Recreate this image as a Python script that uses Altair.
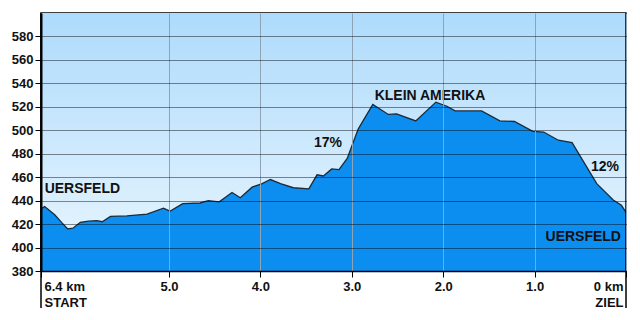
import altair as alt
import pandas as pd

# ---- data ----
km = [6.40, 6.36, 6.25, 6.17, 6.11, 6.05, 5.97, 5.88, 5.79, 5.73,
      5.64, 5.46, 5.24, 5.06, 4.99, 4.85, 4.66, 4.57, 4.45, 4.31,
      4.22, 4.09, 3.98, 3.89, 3.78, 3.64, 3.47, 3.38, 3.31, 3.22,
      3.14, 3.05, 2.93, 2.77, 2.60, 2.51, 2.30, 2.08, 1.96, 1.87,
      1.58, 1.38, 1.22, 1.02, 0.90, 0.74, 0.59, 0.32, 0.14, 0.05, 0.00]
elev = [433, 435, 428, 421, 416, 416.5, 421.5, 422.5, 423, 422,
        426.5, 427, 428.5, 433.5, 431, 437.5, 438, 440, 439, 447,
        442.5, 451.5, 454.5, 458, 454.5, 451, 450, 462, 461, 467,
        466.5, 476, 501, 522, 513.5, 514, 508, 524, 520.5, 516.5,
        516.5, 508, 507.5, 499, 498.5, 491.5, 489.5, 454.5, 440.5, 436, 430]

y_ticks = [380, 400, 420, 440, 460, 480, 500, 520, 540, 560, 580]
x_ticks = [6.4, 5.0, 4.0, 3.0, 2.0, 1.0, 0.0]

ann_text = ["UERSFELD", "KLEIN AMERIKA", "17%", "12%", "UERSFELD"]
ann_km = [6.36, 2.75, 3.26, 0.23, 0.055]
ann_elev = [449.5, 529.5, 489.5, 468.5, 409]
ann_align = ["left", "left", "center", "center", "right"]

W, H = 585, 258
FONT = "Liberation Sans"

prof = pd.DataFrame({"km": km, "elev": elev})
ann = pd.DataFrame({"text": ann_text, "km": ann_km, "elev": ann_elev, "align": ann_align})

xscale = alt.Scale(domain=[0, 6.4], reverse=True, nice=False, zero=False)
yscale = alt.Scale(domain=[380, 600], nice=False, zero=False)

label_expr = ("datum.value == 6.4 ? ['6.4 km', 'START'] : "
              "datum.value == 0 ? ['0 km', 'ZIEL'] : format(datum.value, '.1f')")

x_axis = alt.Axis(
    values=x_ticks, labelExpr=label_expr, labelFlush=True, labelFlushOffset=-3,
    grid=True, gridColor="#8fa3b6", gridWidth=1, gridOpacity=1,
    tickSize=6, tickColor="black", domainColor="black", domainWidth=1.5,
    labelFont=FONT, labelFontSize=13, labelFontWeight="bold", labelColor="#111",
    labelPadding=3, labelLineHeight=16, labelOverlap=False, title=None, zindex=1)
y_axis = alt.Axis(
    values=y_ticks, grid=True, gridColor="#000000", gridDash=[1, 1], gridWidth=1,
    gridOpacity=0.9,
    tickSize=6, tickColor="black", domainColor="black", domainWidth=2,
    labelFont=FONT, labelFontSize=13, labelFontWeight="bold", labelColor="#111",
    labelPadding=2, labelOverlap=False, title=None, zindex=1)

X = alt.X("km:Q", scale=xscale, axis=x_axis)
Y = alt.Y("elev:Q", scale=yscale, axis=y_axis)

bg = alt.Chart(pd.DataFrame({"a": [0]})).mark_rect(
    fill=alt.LinearGradient(
        gradient="linear", x1=0, x2=0, y1=0, y2=1,
        stops=[alt.GradientStop(offset=0, color="#aedbfc"),
               alt.GradientStop(offset=1, color="#eaf6fe")])
).encode(x=alt.value(0), x2=alt.value(W), y=alt.value(0), y2=alt.value(H))

area = alt.Chart(prof).mark_area(
    color="#0b8ef0", opacity=1,
    line={"color": "#1c2a38", "strokeWidth": 1.3}
).encode(x=X, y=Y, y2=alt.datum(380))

rules = alt.Chart(pd.DataFrame({"km": [6.4, 0.0]})).mark_rule(
    color="black", strokeWidth=1.5, clip=False
).encode(x=X, y=alt.value(0), y2=alt.value(295))

texts = []
for al in ["left", "center", "right"]:
    texts.append(
        alt.Chart(ann).transform_filter(alt.datum.align == al).mark_text(
            align=al, baseline="middle", font=FONT, fontSize=14, fontWeight="bold", color="#111"
        ).encode(x=X, y=Y, text="text:N")
    )

chart = alt.layer(bg, area, rules, *texts).properties(
    width=W, height=H,
    autosize=alt.AutoSizeParams(type="none"),
    padding={"left": 41, "top": 13, "right": 14, "bottom": 49},
    background="white",
).configure_view(stroke="black", strokeWidth=1.5)

chart.save("out.html", embed_options={"renderer": "svg", "actions": False})
